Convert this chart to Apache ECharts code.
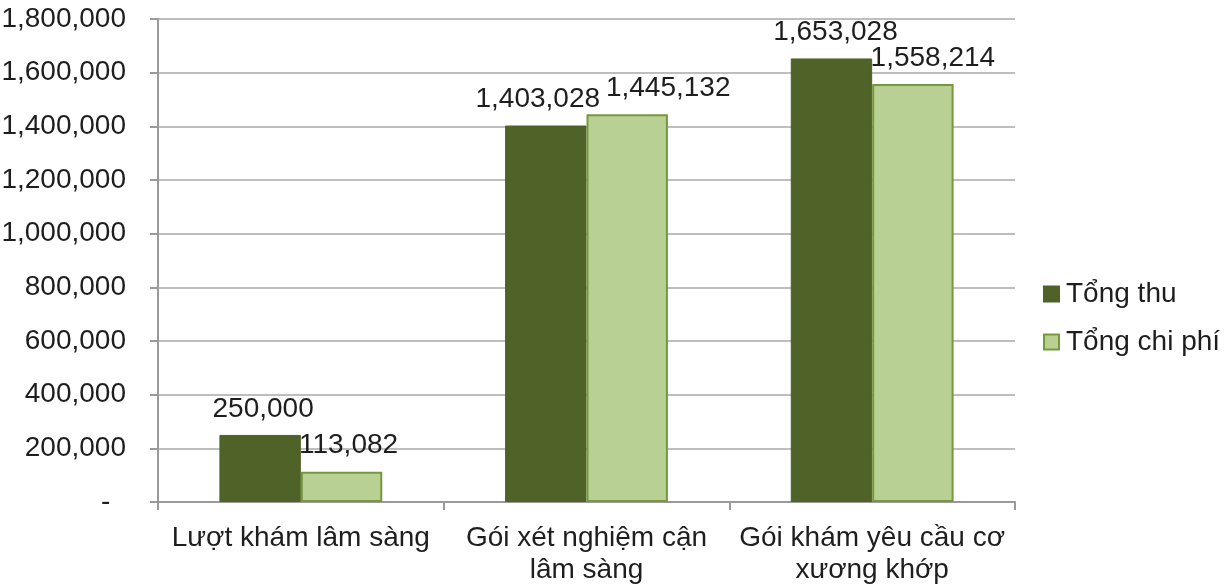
<!DOCTYPE html>
<html><head><meta charset="utf-8">
<script src="https://cdn.jsdelivr.net/npm/echarts@6/dist/echarts.min.js"></script>
<style>html,body{margin:0;padding:0;background:#fff}#c{width:1231px;height:586px}</style>
</head><body><div id="c"></div>
<script>
const categories = ['Lượt khám lâm sàng', 'Gói xét nghiệm cận\nlâm sàng', 'Gói khám yêu cầu cơ\nxương khớp'];
const seriesNames = ['Tổng thu', 'Tổng chi phí'];
const tongThu = [250000, 1403028, 1653028];
const tongChiPhi = [113082, 1445132, 1558214];

// horizontal nudges of the data labels (as placed in the original)
const thuLabelShift = [3, -8, 4];
const chiLabelShift = [7, 41, 20];

const fmt = v => v === 0 ? '-  ' : v.toLocaleString('en-US');
const font = 'Liberation Sans, Arial, sans-serif';
const FS = 28;
const lbl = {show: true, position: 'top', distance: 12, fontSize: FS, color: '#1e1e1e', formatter: p => fmt(p.value), fontFamily: font};
const chart = echarts.init(document.getElementById('c'), null, {renderer: 'canvas'});
chart.setOption({
  animation: false,
  textStyle: {fontFamily: font},
  grid: {left: 158, right: 216, top: 19, bottom: 84, outerBoundsMode: 'none', containLabel: false},
  legend: {
    orient: 'vertical', left: 1038, top: 275, itemWidth: 15, itemHeight: 15, itemGap: 20,
    icon: 'rect',
    textStyle: {fontSize: FS, color: '#1e1e1e', fontFamily: font, padding: [0, 0, 0, 2]},
    data: seriesNames
  },
  xAxis: {
    type: 'category', data: categories,
    axisLine: {lineStyle: {color: '#9a9a9a', width: 2}},
    axisTick: {show: true, length: 8, lineStyle: {color: '#9a9a9a', width: 2}},
    axisLabel: {interval: 0, fontSize: FS, color: '#1e1e1e', margin: 20, lineHeight: 32, fontFamily: font}
  },
  yAxis: {
    type: 'value', min: 0, max: 1800000, interval: 200000,
    axisLine: {show: true, lineStyle: {color: '#9a9a9a', width: 2}},
    axisTick: {show: true, length: 8, lineStyle: {color: '#9a9a9a', width: 2}},
    splitLine: {lineStyle: {color: '#a8a8a8', width: 1.5}},
    axisLabel: {fontSize: FS, color: '#1e1e1e', margin: 32, formatter: fmt, fontFamily: font}
  },
  series: [
    {name: seriesNames[0], type: 'bar', barGap: '0%', barCategoryGap: '43%',
     data: tongThu.map((v, i) => ({value: v, label: {offset: [thuLabelShift[i], 0]}})),
     itemStyle: {color: '#4f6228', borderColor: '#4f6228', borderWidth: 1},
     label: lbl},
    {name: seriesNames[1], type: 'bar',
     data: tongChiPhi.map((v, i) => ({value: v, label: {offset: [chiLabelShift[i], 0]}})),
     itemStyle: {color: '#b9d095', borderColor: '#77973c', borderWidth: 2},
     label: lbl}
  ]
});
</script></body></html>
